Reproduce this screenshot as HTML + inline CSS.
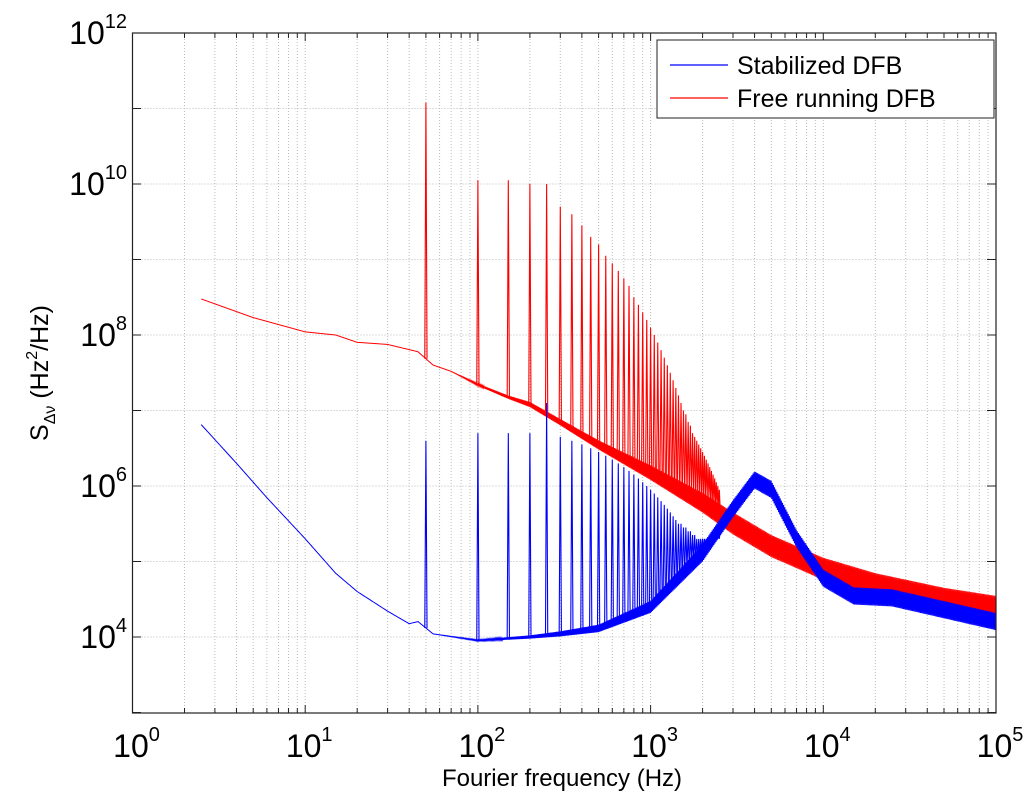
<!DOCTYPE html>
<html><head><meta charset="utf-8"><style>
body{margin:0;background:#fff;}
svg text{font-family:"Liberation Sans",Arial,sans-serif;fill:#000;}
</style></head><body>
<svg id="chart" width="1024" height="805" xmlns="http://www.w3.org/2000/svg">
<rect width="1024" height="805" fill="#fff"/>
<g id="grid"></g>
<g id="series"></g>
<rect x="132.5" y="33" width="863.5" height="680" fill="none" stroke="#222" stroke-width="1.2"/>
<g id="ticks"></g>
<text x="562" y="786" font-size="24" text-anchor="middle">Fourier frequency (Hz)</text>
<text transform="translate(48,373) rotate(-90)" font-size="25" text-anchor="middle">S<tspan font-size="16" dy="7">Δν</tspan><tspan dy="-7"> (Hz</tspan><tspan font-size="16" dy="-11">2</tspan><tspan dy="11">/Hz)</tspan></text>
<g>
<rect x="657" y="40" width="337" height="78" fill="#fff" stroke="#222" stroke-width="1"/>
<line x1="670" y1="65" x2="728" y2="65" stroke="#0000ff" stroke-width="1.2"/>
<text x="737" y="74" font-size="25">Stabilized DFB</text>
<line x1="670" y1="98" x2="728" y2="98" stroke="#ff0000" stroke-width="1.2"/>
<text x="737" y="107" font-size="25">Free running DFB</text>
</g>
</svg>
<script>
const xDecades=[0,1,2,3,4,5];
const yDecades=[4,6,8,10,12];
const redF=[2.5,5,10,15,20,30,45,55,70,100,150,200,300,500,1000,2000,3000,5000,10000,20000,50000,100000];
const redV=[3e8,1.7e8,1.1e8,1e8,8e7,7.5e7,6e7,4e7,3.3e7,2.2e7,1.5e7,1.2e7,7e6,3.5e6,1.5e6,6e5,3.2e5,1.6e5,8e4,5e4,3.2e4,2.5e4];
const redBand=[1,1,1,1,1,1,1,1,1,1.03,1.05,1.08,1.1,1.15,1.25,1.35,1.4,1.4,1.4,1.4,1.4,1.4];
const redPeakLog=[11.08,10.05,10.05,10.0,10.0,9.7,9.6,9.45,9.3,9.2,9.05,8.95,8.85,8.75,8.65,8.5,8.4,8.3,8.2,8.1,8.0,7.9,7.8,7.7,7.6,7.5,7.4,7.3,7.2,7.1,7.0,6.95,6.85,6.8,6.7,6.65,6.6,6.55,6.5,6.45,6.4,6.35,6.3,6.25,6.2,6.15,6.1,6.05,6.0,5.95];
const blueF=[2.5,4,6,10,15,20,30,40,45,55,100,200,300,500,1000,2000,3000,4000,5000,7000,10000,15000,25000,50000,100000];
const blueV=[6.5e6,2e6,7e5,2e5,7e4,4e4,2.2e4,1.5e4,1.6e4,1.1e4,9e3,1e4,1.1e4,1.3e4,2.5e4,1.3e5,5e5,1.2e6,9e5,2e5,6e4,3.5e4,3.3e4,2.3e4,1.6e4];
const blueBand=[1,1,1,1,1,1,1,1,1,1,1.02,1.05,1.08,1.12,1.2,1.3,1.3,1.3,1.3,1.3,1.3,1.3,1.3,1.3,1.3];
const bluePeakLog=[6.6,6.7,6.7,6.7,7.1,6.65,6.6,6.55,6.5,6.45,6.4,6.35,6.3,6.25,6.2,6.15,6.1,6.05,6.0,5.95,5.9,5.85,5.8,5.75,5.7,5.65,5.6,5.55,5.5,5.5,5.45,5.45,5.4,5.4,5.35,5.35,5.3,5.3,5.3,5.3,5.3,5.3,5.3,5.3,5.3,5.3,5.3,5.3,5.3,5.3];
const NS="http://www.w3.org/2000/svg";
const X0=132.5,XD=172.7,Y0=33,YD=75.5;
function xs(f){return X0+XD*Math.log10(f);}
function ys(v){return Y0+YD*(12-Math.log10(v));}
function mk(t,a,p){const e=document.createElementNS(NS,t);for(const k in a)e.setAttribute(k,a[k]);p.appendChild(e);return e;}
function interp(F,V,f){const lf=Math.log10(f);for(let i=0;i<F.length-1;i++){const a=Math.log10(F[i]),b=Math.log10(F[i+1]);if(lf>=a&&lf<=b){const t=(lf-a)/(b-a);return Math.pow(10,Math.log10(V[i])*(1-t)+Math.log10(V[i+1])*t);}}return V[V.length-1];}
const grid=document.getElementById('grid'),ticks=document.getElementById('ticks'),ser=document.getElementById('series');
for(let d=0;d<5;d++)for(let m=1;m<10;m++){const x=xs(m*Math.pow(10,d));if(m>1||d>0){
const g=mk('line',{x1:x,y1:33,x2:x,y2:713,stroke:'#bbbbbb','stroke-dasharray':'1,2'},grid);

}
const tl=m==1?8:5;
mk('line',{x1:x,y1:713,x2:x,y2:713-tl,stroke:'#222'},ticks);mk('line',{x1:x,y1:33,x2:x,y2:33+tl,stroke:'#222'},ticks);}
for(let d=3;d<12;d++){const y=ys(Math.pow(10,d));if(d>3){
const g=mk('line',{x1:132.5,y1:y,x2:996,y2:y,stroke:'#bbbbbb','stroke-dasharray':'1,2'},grid);

}
mk('line',{x1:132.5,y1:y,x2:141,y2:y,stroke:'#222'},ticks);mk('line',{x1:996,y1:y,x2:987,y2:y,stroke:'#222'},ticks);}
xDecades.forEach(d=>{const x=xs(Math.pow(10,d));
const t=mk('text',{x:x+4,y:757,'font-size':32,'text-anchor':'middle'},ticks);


t.innerHTML='10<tspan font-size="20" dy="-16">'+d+'</tspan>';});
yDecades.forEach(d=>{const y=ys(Math.pow(10,d));
const t=mk('text',{x:127,y:y+11,'font-size':32,'text-anchor':'end'},ticks);


t.innerHTML='10<tspan font-size="20" dy="-16">'+d+'</tspan>';});
function drawSeries(F,V,B,P,color,name){
const g=mk('g',{},ser);


let pts=[];const n=1400;const lo=Math.log10(F[0]),hi=Math.log10(F[F.length-1]);
for(let i=0;i<=n;i++){const f=Math.pow(10,lo+(hi-lo)*i/n);const v=interp(F,V,f);const b=interp(F,B,f);
const s=(i%2==0)?b:1/b;pts.push(xs(f).toFixed(2)+','+ys(v*s).toFixed(2));}
mk('polyline',{points:pts.join(' '),fill:'none',stroke:color,'stroke-width':1},g);
P.forEach((pl,k)=>{const f=50*(k+1);const v=interp(F,V,f);const x=xs(f);
const p=mk('polyline',{points:(xs(f*0.985)).toFixed(2)+','+ys(v).toFixed(2)+' '+x.toFixed(2)+','+ys(Math.pow(10,pl)).toFixed(2)+' '+xs(f*1.015).toFixed(2)+','+ys(v).toFixed(2),fill:'none',stroke:color,'stroke-width':1.1},g);

});
}
drawSeries(redF,redV,redBand,redPeakLog,'#ff0000','free-running-series');
drawSeries(blueF,blueV,blueBand,bluePeakLog,'#0000ff','stabilized-series');
</script>
</body></html>
